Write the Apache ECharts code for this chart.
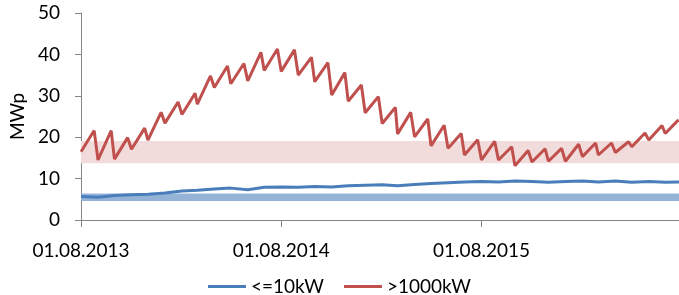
<!DOCTYPE html>
<html>
<head>
<meta charset="utf-8">
<script src="https://cdn.jsdelivr.net/npm/echarts@6/dist/echarts.min.js"></script>
<style>
  html, body { margin: 0; padding: 0; background: #fff; }
  #main { width: 679px; height: 295px; }
</style>
</head>
<body>
<div id="main"></div>
<script>
// months (first day of each month)
const months = ['2013-08','2013-09','2013-10','2013-11','2013-12','2014-01','2014-02','2014-03','2014-04','2014-05','2014-06','2014-07',
  '2014-08','2014-09','2014-10','2014-11','2014-12','2015-01','2015-02','2015-03','2015-04','2015-05','2015-06','2015-07',
  '2015-08','2015-09','2015-10','2015-11','2015-12','2016-01','2016-02','2016-03','2016-04','2016-05','2016-06','2016-07'];
// >1000kW : value at start of month and near its end (sawtooth)
const bigStart = [16.5,14.5,14.7,17.1,19.3,23.4,25.5,28.0,32.0,32.9,33.6,36.1,35.9,35.0,33.4,30.2,28.7,25.9,
  23.3,20.8,20.1,17.9,17.3,15.7,14.5,14.5,13.1,14.0,14.2,14.2,15.3,15.7,16.3,17.7,19.3,20.9];
const bigEnd = [21.6,21.6,19.9,22.2,26.0,28.5,30.6,34.8,37.2,37.8,40.5,41.3,41.1,39.3,38.0,35.6,32.6,29.8,
  27.2,26.0,24.4,22.9,20.9,19.4,19.0,17.7,16.8,17.2,17.3,18.3,18.6,18.6,18.9,21.0,22.8,24.2];
// <=10kW : value at start of month, last one at the end of the axis
const small = [5.7,5.5,5.9,6.1,6.2,6.5,7.0,7.2,7.5,7.7,7.3,7.9,8.0,7.9,8.1,8.0,8.3,8.4,
  8.5,8.3,8.6,8.8,9.0,9.2,9.3,9.2,9.4,9.3,9.1,9.3,9.4,9.2,9.4,9.1,9.3,9.1];
const smallLast = 9.2;
// bands
const bandBig = [13.7, 19.1];
const bandSmall = [4.6, 6.4];
const xTicks = ['2013-08-01', '2014-08-01', '2015-08-01'];
const xEnd = '2016-07-26';

function ts(s) {
  const p = s.split('-').map(Number);
  return new Date(p[0], p[1] - 1, p[2] || 1).getTime();
}
function pad(n) { return (n < 10 ? '0' : '') + n; }

const bigData = [];
const smallData = [];
for (let i = 0; i < months.length; i++) {
  const p = months[i].split('-').map(Number);
  bigData.push([new Date(p[0], p[1] - 1, 1).getTime(), bigStart[i]]);
  bigData.push([new Date(p[0], p[1] - 1, 25).getTime(), bigEnd[i]]);
  smallData.push([new Date(p[0], p[1] - 1, 1).getTime(), small[i]]);
}
smallData.push([ts(xEnd), smallLast]);

const font = 'Lato, "Open Sans", sans-serif';
const myChart = echarts.init(document.getElementById('main'));
const option = {
  animation: false,
  textStyle: { fontFamily: font },
  grid: { left: 72, right: 0, top: 13, bottom: 75, containLabel: false },
  legend: {
    top: 272,
    left: 'center',
    icon: 'rect',
    itemWidth: 38,
    itemHeight: 3,
    itemGap: 20,
    textStyle: { fontSize: 19, color: '#000', fontFamily: font },
    data: ['<=10kW', '>1000kW']
  },
  xAxis: {
    type: 'value',
    min: ts(xTicks[0]),
    max: ts(xEnd),
    splitLine: { show: false },
    axisLine: { lineStyle: { color: '#868686', width: 1 } },
    axisTick: { show: true, length: 7, lineStyle: { color: '#868686' }, customValues: xTicks.map(ts) },
    axisLabel: {
      customValues: xTicks.map(ts),
      fontSize: 19, color: '#000', margin: 21, fontFamily: font,
      formatter: function (v) {
        const d = new Date(v);
        return pad(d.getDate()) + '.' + pad(d.getMonth() + 1) + '.' + d.getFullYear();
      }
    }
  },
  yAxis: {
    type: 'value',
    min: 0, max: 50, interval: 10,
    name: 'MWp',
    nameLocation: 'middle',
    nameGap: 54,
    nameTextStyle: { fontSize: 19, color: '#000', fontFamily: font },
    splitLine: { show: false },
    axisLine: { show: true, lineStyle: { color: '#868686' } },
    axisTick: { show: true, length: 6, lineStyle: { color: '#868686' } },
    axisLabel: { fontSize: 19, color: '#000', margin: 21, fontFamily: font }
  },
  series: [
    {
      name: '<=10kW',
      type: 'line',
      data: smallData,
      symbol: 'none',
      lineStyle: { width: 3, color: '#4a7ebb' },
      itemStyle: { color: '#4a7ebb' },
      z: 3,
      markArea: {
        silent: true,
        itemStyle: { color: '#95b3d7' },
        data: [[{ yAxis: bandSmall[0] }, { yAxis: bandSmall[1] }]]
      }
    },
    {
      name: '>1000kW',
      type: 'line',
      data: bigData,
      symbol: 'none',
      lineStyle: { width: 3, color: '#c0504d' },
      itemStyle: { color: '#c0504d' },
      z: 3,
      markArea: {
        silent: true,
        itemStyle: { color: '#f2dcdb' },
        data: [[{ yAxis: bandBig[0] }, { yAxis: bandBig[1] }]]
      }
    }
  ]
};
myChart.setOption(option);
</script>
</body>
</html>
